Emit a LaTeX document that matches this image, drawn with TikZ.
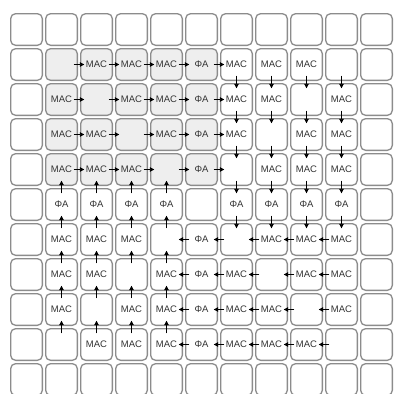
\documentclass[tikz,border=0pt]{standalone}
\usepackage{fontspec}
\setmainfont{Liberation Sans}
\usepackage{xcolor}
\definecolor{CellFill}{HTML}{EEEEEE}
\definecolor{CellLine}{HTML}{8C8C8C}
\definecolor{LabelGray}{HTML}{333333}
\usepackage{tikz}
\usetikzlibrary{arrows.meta,positioning}

\begin{document}
\begin{tikzpicture}[x=1pt,y=-1pt,
  cell/.style={draw=CellLine,line width=1.3pt,rounded corners=5pt,minimum size=31.7pt,inner sep=0pt},
  pe/.style={inner sep=0pt,minimum width=24pt,minimum height=22pt,font=\fontsize{9.5}{10}\selectfont,text=LabelGray},
  arr/.style={-{Triangle[length=4.5pt,width=4.5pt]},line width=0.9pt,black}
]
  \useasboundingbox (0,0) rectangle (394,394);
  % processing array
  \foreach \row [count=\r from 0] in {
    {{},{},{},{},{},{},{},{},{},{},{}},
    {{},{},MAC,MAC,MAC,ΦA,MAC,MAC,MAC,{},{}},
    {{},MAC,{},MAC,MAC,ΦA,MAC,MAC,{},MAC,{}},
    {{},MAC,MAC,{},MAC,ΦA,MAC,{},MAC,MAC,{}},
    {{},MAC,MAC,MAC,{},ΦA,{},MAC,MAC,MAC,{}},
    {{},ΦA,ΦA,ΦA,ΦA,{},ΦA,ΦA,ΦA,ΦA,{}},
    {{},MAC,MAC,MAC,{},ΦA,{},MAC,MAC,MAC,{}},
    {{},MAC,MAC,{},MAC,ΦA,MAC,{},MAC,MAC,{}},
    {{},MAC,{},MAC,MAC,ΦA,MAC,MAC,{},MAC,{}},
    {{},{},MAC,MAC,MAC,ΦA,MAC,MAC,MAC,{},{}},
    {{},{},{},{},{},{},{},{},{},{},{}}}{
    \foreach \t [count=\c from 0] in \row {
      \pgfmathtruncatemacro\shade{and(and(\r>0,\r<5),and(\c>0,\c<6))}
      \ifnum\shade=1 \def\bg{CellFill}\else\def\bg{white}\fi
      \node[cell,fill=\bg] (b\r-\c) at (26.5+35*\c,29.5+35*\r) {};
      \node[pe] (p\r-\c) at (b\r-\c) {\t};
    }
  }
  % eastward flow
  \foreach \i in {1,...,4}
    \foreach \j in {1,...,5} {
      \pgfmathtruncatemacro\k{\j+1}
      \draw[arr] (p\i-\j.east) -- (p\i-\k.west);
    }
  % westward flow
  \foreach \i in {6,...,9}
    \foreach \j in {5,...,9} {
      \pgfmathtruncatemacro\k{\j-1}
      \draw[arr] (p\i-\j.west) -- (p\i-\k.east);
    }
  % downward flow
  \foreach \j in {6,...,9}
    \foreach \i in {1,...,5} {
      \pgfmathtruncatemacro\k{\i+1}
      \draw[arr] (p\i-\j.south) -- (p\k-\j.north);
    }
  % upward flow
  \foreach \j in {1,...,4}
    \foreach \i in {5,...,9} {
      \pgfmathtruncatemacro\k{\i-1}
      \draw[arr] (p\i-\j.north) -- (p\k-\j.south);
    }
\end{tikzpicture}
\end{document}
